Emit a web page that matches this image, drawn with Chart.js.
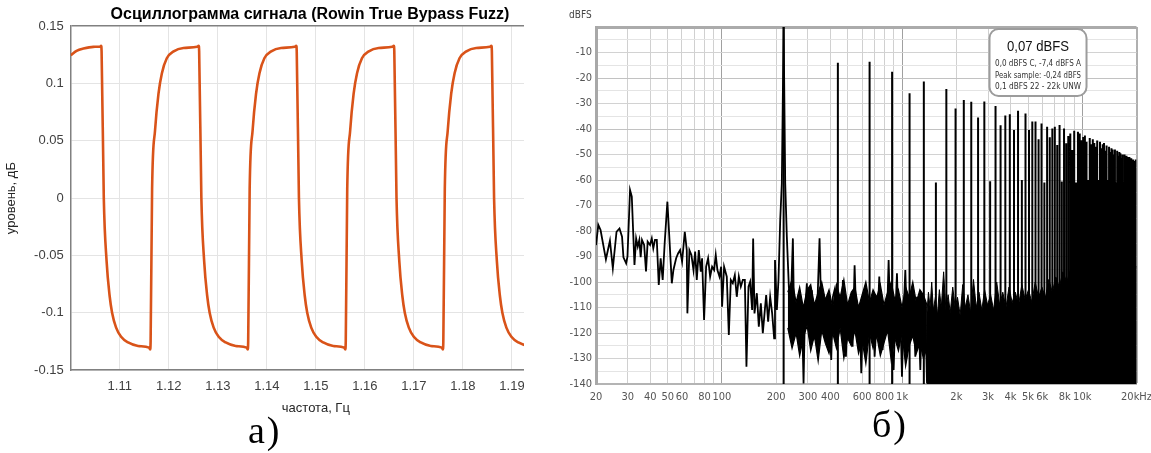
<!DOCTYPE html>
<html>
<head>
<meta charset="utf-8">
<script src="https://cdn.jsdelivr.net/npm/chart.js@4"></script>
<style>
    body { margin: 0; background: #fff; width: 1151px; height: 453px; position: relative; overflow: hidden; }
    #waveBox { position: absolute; left: 0; top: 0; width: 524px; height: 430px; overflow: hidden; }
    #waveBox canvas { position: absolute; left: 0; top: 0; }
    #specBox { position: absolute; left: 540px; top: 0; width: 619px; height: 410px; }
    .cap { position: absolute; font-family: 'Liberation Serif', 'Times New Roman', serif; font-size: 38px; line-height: 1; letter-spacing: 2px; color: #000; }
</style>
</head>
<body>
<div id="waveBox"><canvas id="waveChart" width="620" height="416"></canvas></div>
<div id="specBox"><canvas id="specChart" width="619" height="410"></canvas></div>
<div class="cap" style="left:248px; top:411px;">а)</div>
<div class="cap" style="left:872px; top:405px;">б)</div>
<script>
// а) осциллограмма: время, с / уровень
var waveT = [1.1000, 1.1012, 1.1026, 1.1046, 1.1060,
    1.1062, 1.1063, 1.10675, 1.10732, 1.10793, 1.10844, 1.10926, 1.11028, 1.11171, 1.11375, 1.1160, 1.1162, 1.1163, 1.1166, 1.1172, 1.1179, 1.1186, 1.1196, 1.1210, 1.1230, 1.1258,
    1.1261, 1.1262, 1.12665, 1.12722, 1.12783, 1.12834, 1.12916, 1.13018, 1.13161, 1.13365, 1.1359, 1.1361, 1.1362, 1.1365, 1.1371, 1.1378, 1.1385, 1.1395, 1.1409, 1.1429, 1.1457,
    1.1460, 1.1461, 1.14655, 1.14712, 1.14773, 1.14824, 1.14906, 1.15008, 1.15151, 1.15355, 1.1558, 1.1560, 1.1561, 1.1564, 1.1570, 1.1577, 1.1584, 1.1594, 1.1608, 1.1628, 1.1656,
    1.1659, 1.1660, 1.16645, 1.16702, 1.16763, 1.16814, 1.16896, 1.16998, 1.17141, 1.17345, 1.1757, 1.1759, 1.1760, 1.1763, 1.1769, 1.1776, 1.1783, 1.1793, 1.1807, 1.1827, 1.1855,
    1.1858, 1.1859, 1.18635, 1.18692, 1.18753, 1.18804, 1.18886, 1.18988, 1.19131, 1.19335, 1.1956, 1.1958, 1.1959, 1.1962, 1.1968, 1.1975, 1.1982, 1.1992];
var waveV = [0.1247, 0.1285, 0.1305, 0.132, 0.1322,
    0.133, 0.128, 0.0, -0.055, -0.085, -0.100, -0.113, -0.121, -0.126, -0.129, -0.1305, -0.132, -0.125, 0.008, 0.059, 0.091, 0.109, 0.122, 0.128, 0.131, 0.132,
    0.133, 0.128, 0.0, -0.055, -0.085, -0.100, -0.113, -0.121, -0.126, -0.129, -0.1305, -0.132, -0.125, 0.008, 0.059, 0.091, 0.109, 0.122, 0.128, 0.131, 0.132,
    0.133, 0.128, 0.0, -0.055, -0.085, -0.100, -0.113, -0.121, -0.126, -0.129, -0.1305, -0.132, -0.125, 0.008, 0.059, 0.091, 0.109, 0.122, 0.128, 0.131, 0.132,
    0.133, 0.128, 0.0, -0.055, -0.085, -0.100, -0.113, -0.121, -0.126, -0.129, -0.1305, -0.132, -0.125, 0.008, 0.059, 0.091, 0.109, 0.122, 0.128, 0.131, 0.132,
    0.133, 0.128, 0.0, -0.055, -0.085, -0.100, -0.113, -0.121, -0.126, -0.129, -0.1305, -0.132, -0.125, 0.008, 0.059, 0.091, 0.109, 0.122];
var waveXTicks = [1.10, 1.11, 1.12, 1.13, 1.14, 1.15, 1.16, 1.17, 1.18, 1.19, 1.20];
var waveYTicks = [-0.15, -0.1, -0.05, 0, 0.05, 0.1, 0.15];

// б) спектр: шум до 1.37 кГц
var noiseF = [20.0, 20.6, 21.2, 22.7, 23.9, 24.8, 26.0, 27.0, 27.9, 28.4, 29.4, 29.9, 30.9, 31.6, 32.7, 33.4, 34.1, 34.8, 35.4, 36.0,
    37.0, 37.9, 38.7, 39.9, 40.8, 41.6, 42.5, 43.5, 44.6, 45.7, 46.9, 48.1, 49.8, 51.1, 52.7, 53.8, 55.7, 57.1, 58.6, 60.1,
    62.2, 63.8, 64.3, 66.0, 67.7, 69.5, 71.0, 72.5, 74.4, 76.3, 77.6, 79.6, 81.7, 83.8, 86.0, 88.2, 90.5, 92.4, 94.4, 96.9,
    99.0, 100.2, 102.8, 106.4, 109.2, 112.0, 114.9, 117.9, 120.9, 124.1, 127.3, 130.6, 134.0, 136.8, 140.4, 143.4, 147.1, 149.0, 151.6, 156.2,
    160.2, 164.4, 168.6, 173.0, 176.0, 180.5, 185.2, 190.0, 194.9, 197.0, 201.8, 206.0, 210.6, 215.0, 220.0, 224.5, 229.2, 235.2, 241.2, 247.6,
    250.7, 255.1, 260.5, 266.2, 271.9, 277.8, 283.8, 288.7, 296.0, 302.5, 309.0, 315.6, 322.4, 329.4, 336.4, 348.2, 355.7, 363.3, 371.2, 379.1,
    387.3, 395.6, 404.2, 412.9, 421.8, 430.9, 449.7, 459.4, 469.3, 477.4, 487.7, 498.3, 509.0, 519.9, 531.1, 544.9, 556.7, 568.6, 580.9, 593.4,
    606.2, 619.3, 632.6, 646.2, 674.4, 688.9, 703.7, 718.9, 734.4, 746.9, 763.0, 779.4, 796.2, 813.4, 830.9, 841.7, 859.9, 897.3, 916.6, 936.3,
    956.5, 977.2, 998.2, 1019.7, 1041.8, 1064.2, 1087.2, 1134.5, 1159.0, 1183.9, 1209.5, 1235.4, 1262.1, 1289.3, 1345.4, 1374.4];
var noiseDb = [-85.5, -77.6, -79.6, -91.1, -83.8, -94.6, -80.3, -79.0, -82.2, -90.3, -92.7, -90.1, -63.9, -66.5, -93.3, -82.9, -86.1, -83.5, -90.3, -83.5,
    -85.5, -95.9, -84.2, -85.5, -82.9, -86.8, -83.5, -83.5, -101.2, -90.7, -99.2, -84.8, -68.5, -82.9, -100.5, -95.3, -90.7, -88.8, -87.5, -92.0,
    -80.3, -87.5, -112.3, -87.5, -89.4, -95.3, -88.1, -99.2, -87.5, -95.9, -90.7, -114.9, -94.0, -90.7, -97.9, -94.0, -95.3, -89.4, -95.3, -97.9,
    -94.0, -109.7, -94.0, -97.9, -120.8, -99.2, -100.5, -97.3, -105.8, -97.9, -101.8, -99.2, -99.2, -133.2, -101.8, -99.9, -111.0, -82.9, -112.3, -104.4,
    -117.5, -108.4, -120.1, -111.0, -105.1, -115.6, -105.8, -112.3, -122.1, -91.4, -111.0, -99.2, -75.7, -61.3, 0, -61.3, -82.2, -101.9, -108.4, -82.9,
    -108.4, -112.3, -121.5, -108.4, -114.9, -111.0, -139.8, -112.3, -100.5, -117.5, -108.4, -103.2, -122.8, -111.0, -114.9, -82.9, -112.3, -107.1, -118.8, -109.7,
    -104.5, -114.9, -130.6, -105.8, -103.2, -113.6, -108.4, -117.5, -99.2, -111.0, -129.3, -111.0, -118.8, -108.4, -125.4, -93.4, -114.9, -121.5, -109.7, -135.8,
    -113.6, -107.1, -117.5, -108.4, -112.3, -105.8, -129.3, -117.5, -111.0, -97.9, -114.9, -126.7, -109.7, -117.5, -105.8, -91.4, -116.2, -134.5, -113.6, -96.6,
    -118.8, -111.0, -137.1, -112.3, -95.3, -117.5, -109.7, -118.8, -111.0, -129.3, -105.8, -113.6, -134.5, -108.4, -112.3, -139.8];

// плотная полоса шума 232 Гц - 1.37 кГц (верх / низ)
var bandF = [232, 245, 258, 270, 283, 297, 311, 326, 342, 358, 375, 393, 412, 432, 453, 475, 498, 522, 547, 573,
    600, 629, 659, 690, 723, 757, 793, 831, 870, 911, 954, 999, 1046, 1095, 1146, 1199, 1255, 1313, 1374];
var bandTop = [-104, -99, -108, -102, -110, -103, -101, -109, -104, -100, -107, -103, -110, -101, -106, -99, -109, -104, -102, -110,
    -105, -100, -108, -103, -106, -101, -109, -104, -100, -107, -103, -110, -102, -106, -100, -108, -103, -105, -109];
var bandBottom = [-118, -126, -120, -129, -122, -117, -127, -121, -131, -119, -124, -128, -120, -126, -118, -130, -122, -125, -119, -128,
    -123, -132, -120, -126, -121, -129, -124, -119, -131, -122, -127, -120, -133, -125, -121, -128, -124, -130, -126];

// плотный шум от 1.37 кГц (верхняя граница)
var floorF = [1374, 1400, 1430, 1460, 1490, 1530, 1570, 1610, 1650, 1700, 1750, 1800, 1850, 1910, 1970, 2030, 2100, 2170, 2240, 2320,
    2400, 2490, 2580, 2670, 2770, 2870, 2980, 3100, 3220, 3350, 3480, 3620, 3770, 3920, 4080, 4250, 4430, 4620, 4820, 5030,
    5250, 5480, 5720, 5970, 6240, 6520, 6820, 7130, 7460, 7800, 8200, 8600, 9000, 9500, 10000, 11000, 12000, 13500, 15000, 17000, 20000];
var floorDb = [-112, -104, -110, -100, -111, -106, -113, -103, -110, -96, -111, -105, -112, -102, -110, -106, -113, -101, -110, -105,
    -112, -99, -110, -104, -111, -103, -109, -105, -111, -100, -109, -104, -110, -102, -108, -104, -109, -101, -107, -103,
    -108, -100, -106, -102, -106, -99, -104, -98, -102, -96, -100, -95, -98, -94, -96, -93, -95, -92, -94, -92, -94];

// гармоники 220 Гц
var harmF = [220, 440, 660, 880, 1100, 1320, 1540, 1760, 1980, 2200, 2420, 2640, 2860, 3080, 3300, 3520, 3740, 3960, 4180, 4400,
    4620, 4840, 5060, 5280, 5500, 5720, 5940, 6160, 6380, 6600, 6820, 7040, 7260, 7480, 7700, 7920, 8140, 8360, 8580, 8800,
    9020, 9240, 9460, 9680, 9900, 10120, 10340, 10560, 10780, 11000, 11220, 11440, 11660, 11880, 12100, 12320, 12540, 12760, 12980, 13200,
    13420, 13640, 13860, 14080, 14300, 14520, 14740, 14960, 15180, 15400, 15620, 15840, 16060, 16280, 16500, 16720, 16940, 17160, 17380, 17600,
    17820, 18040, 18260, 18480, 18700, 18920, 19140, 19360, 19580, 19800];
var harmDb = [0, -14.0, -13.6, -17.5, -26.0, -21.4, -61, -24.3, -32.0, -28.6,
    -29.3, -35.5, -29.2, -60.5, -31.0, -38.5, -34.7, -34.2, -40.4, -32.8,
    -60, -33.9, -40.4, -37.1, -37.1, -44.0, -37.8, -61, -39.1, -43.2,
    -39.8, -39.1, -46.3, -38.4, -60.6, -39.8, -45.6, -42.7, -41.8, -48.2,
    -40.7, -61, -41.1, -41.8, -44.4, -43.1, -42.5, -45.0, -60, -43.5,
    -46.0, -44.0, -45.5, -47.0, -44.5, -60, -45.0, -47.5, -46.0, -45.5,
    -48.5, -46.5, -60, -47.0, -49.0, -47.5, -48.0, -50.0, -48.0, -61,
    -48.5, -50.5, -49.0, -49.5, -51.5, -50.0, -61, -50.0, -52.0, -50.5,
    -51.0, -53.0, -51.0, -61, -51.5, -53.0, -52.0, -52.5, -54.0, -52.0];

var gridF = [20, 30, 40, 50, 60, 70, 80, 90, 100, 200, 300, 400, 500, 600, 700, 800, 900, 1000,
    2000, 3000, 4000, 5000, 6000, 7000, 8000, 9000, 10000, 20000];
var labelF = [20, 30, 40, 50, 60, 80, 100, 200, 300, 400, 600, 800, 1000, 2000, 3000, 4000, 5000, 6000, 8000, 10000, 20000];
var labelText = ['20', '30', '40', '50', '60', '80', '100', '200', '300', '400', '600', '800', '1k', '2k', '3k', '4k', '5k', '6k', '8k', '10k', '20kHz'];
var dbGrid = [-140, -135, -130, -125, -120, -115, -110, -105, -100, -95, -90, -85, -80, -75, -70, -65, -60, -55, -50, -45,
    -40, -35, -30, -25, -20, -15, -10, -5, 0];
var infoLines = ['0,0 dBFS C, -7,4 dBFS A', 'Peak sample: -0,24 dBFS', '0,1 dBFS 22 - 22k UNW'];

var sansFont = 'Liberation Sans';
var narrowFont = "'Liberation Sans Narrow', 'DejaVu Sans Condensed', sans-serif";

// ---------- а) ----------
var waveCanvas = document.getElementById('waveChart').getContext('2d');
var wavePoints = waveT.map(function (t, i) { return { x: t, y: waveV[i] }; });

var waveChart = new Chart(waveCanvas, {
    type: 'line',
    data: {
        datasets: [{
            data: wavePoints,
            borderColor: '#D95319',
            borderWidth: 2.6,
            pointRadius: 0,
            fill: false,
            cubicInterpolationMode: 'monotone'
        }]
    },
    options: {
        responsive: false,
        animation: false,
        layout: { padding: 0 },
        plugins: {
            legend: { display: false },
            tooltip: { enabled: false },
            title: {
                display: true,
                text: 'Осциллограмма сигнала (Rowin True Bypass Fuzz)',
                color: '#000',
                font: { family: sansFont, size: 16, weight: 'bold' },
                padding: { top: 5, bottom: 2 }
            }
        },
        scales: {
            x: {
                type: 'linear',
                min: 1.1,
                max: 1.2,
                afterFit: function (s) { s.height = 46; },
                afterBuildTicks: function (s) { s.ticks = waveXTicks.map(function (v) { return { value: v }; }); },
                ticks: {
                    padding: 9,
                    maxRotation: 0,
                    autoSkip: false,
                    color: '#404040',
                    font: { family: sansFont, size: 13 },
                    callback: function (v) { return Math.abs(v - 1.1) < 1e-6 ? '' : v.toFixed(2); }
                },
                grid: { color: '#e4e4e4', drawTicks: false },
                border: { color: '#808080', width: 1.5 },
                title: {
                    display: true,
                    text: 'частота, Гц',
                    color: '#262626',
                    font: { family: sansFont, size: 13 },
                    padding: { top: 0, bottom: 0 }
                }
            },
            y: {
                min: -0.15,
                max: 0.15,
                afterFit: function (s) { s.width = 70.7; },
                afterBuildTicks: function (s) { s.ticks = waveYTicks.map(function (v) { return { value: v }; }); },
                ticks: {
                    padding: 7,
                    color: '#404040',
                    font: { family: sansFont, size: 13 },
                    callback: function (v) { return String(Number(v.toFixed(2))); }
                },
                grid: {
                    drawTicks: false,
                    color: function (c) { return Math.abs(c.tick.value - 0.15) < 1e-9 ? '#808080' : '#e4e4e4'; },
                    lineWidth: function (c) { return Math.abs(c.tick.value - 0.15) < 1e-9 ? 1.5 : 1; }
                },
                border: { color: '#808080', width: 1.5 },
                title: {
                    display: true,
                    text: 'уровень, дБ',
                    color: '#262626',
                    font: { family: sansFont, size: 13 },
                    padding: { top: 4, bottom: 0 }
                }
            },
            // пустая ось справа: оси MATLAB шире видимой части
            yRight: {
                position: 'right',
                display: true,
                afterFit: function (s) { s.width = 59; },
                grid: { display: false },
                ticks: { display: false },
                border: { display: false }
            }
        }
    }
});

// ---------- б) ----------
var specCanvas = document.getElementById('specChart').getContext('2d');
var noisePoints = noiseF.map(function (f, i) { return { x: f, y: noiseDb[i] }; });
var bandTopPoints = bandF.map(function (f, i) { return { x: f, y: bandTop[i] }; });
var bandBottomPoints = bandF.map(function (f, i) { return { x: f, y: bandBottom[i] }; });
var floorPoints = floorF.map(function (f, i) { return { x: f, y: floorDb[i] }; });
var harmPoints = [];
harmF.forEach(function (f, i) {
    harmPoints.push({ x: f, y: -140 });
    harmPoints.push({ x: f, y: harmDb[i] });
    harmPoints.push({ x: f, y: null });
});

var specDecor = {
    id: 'specDecor',
    afterDraw: function (chart) {
        var ctx = chart.ctx;
        var area = chart.chartArea;
        ctx.save();
        ctx.fillStyle = '#444';
        ctx.font = '10px ' + narrowFont;
        ctx.textAlign = 'left';
        ctx.textBaseline = 'middle';
        ctx.fillText('dBFS', 29, 15);

        var bx = area.right - 147, by = area.top + 2, bw = 97, bh = 67;
        ctx.beginPath();
        ctx.roundRect(bx, by, bw, bh, 9);
        ctx.fillStyle = '#fff';
        ctx.fill();
        ctx.lineWidth = 2;
        ctx.strokeStyle = '#9c9c9c';
        ctx.stroke();

        ctx.textAlign = 'center';
        ctx.fillStyle = '#111';
        ctx.font = '15px ' + sansFont;
        ctx.fillText('0,07 dBFS', bx + bw / 2, by + 18, 62);
        ctx.fillStyle = '#333';
        ctx.font = '9px ' + narrowFont;
        infoLines.forEach(function (line, i) {
            ctx.fillText(line, bx + bw / 2, by + 35 + i * 11.5, 86);
        });
        ctx.restore();
    }
};

var specChart = new Chart(specCanvas, {
    type: 'line',
    data: {
        datasets: [{
            data: floorPoints,
            borderColor: '#000',
            backgroundColor: '#000',
            borderWidth: 1,
            pointRadius: 0,
            fill: 'start'
        }, {
            data: bandBottomPoints,
            borderColor: '#000',
            borderWidth: 1.2,
            pointRadius: 0,
            fill: false
        }, {
            data: bandTopPoints,
            borderColor: '#000',
            backgroundColor: '#000',
            borderWidth: 1.2,
            pointRadius: 0,
            fill: '-1'
        }, {
            data: noisePoints,
            borderColor: '#000',
            borderWidth: 1.8,
            pointRadius: 0,
            fill: false
        }, {
            data: harmPoints,
            borderColor: '#000',
            borderWidth: 2,
            pointRadius: 0,
            fill: false,
            spanGaps: false
        }]
    },
    options: {
        responsive: false,
        animation: false,
        layout: { padding: { left: 0, right: 15, top: 27, bottom: 0 } },
        plugins: {
            legend: { display: false },
            tooltip: { enabled: false },
            title: { display: false }
        },
        scales: {
            x: {
                type: 'logarithmic',
                min: 20,
                max: 20000,
                afterFit: function (s) { s.height = 26; },
                afterBuildTicks: function (s) { s.ticks = gridF.map(function (v) { return { value: v }; }); },
                ticks: {
                    padding: 7,
                    maxRotation: 0,
                    autoSkip: false,
                    color: '#555',
                    font: { family: narrowFont, size: 11 },
                    callback: function (v) {
                        var k = labelF.indexOf(v);
                        return k < 0 ? '' : labelText[k];
                    }
                },
                grid: {
                    drawTicks: false,
                    color: function (c) {
                        var v = c.tick.value;
                        if (v === 20000) return '#b0b0b0';
                        if (v === 100 || v === 1000 || v === 10000) return '#a0a0a0';
                        return '#d0d0d0';
                    },
                    lineWidth: function (c) { return c.tick.value === 20000 ? 2 : 1; }
                },
                border: { color: '#b4b4b4', width: 2 }
            },
            y: {
                min: -140,
                max: 0,
                afterFit: function (s) { s.width = 56; },
                afterBuildTicks: function (s) { s.ticks = dbGrid.map(function (v) { return { value: v }; }); },
                ticks: {
                    padding: 4,
                    autoSkip: false,
                    color: '#555',
                    font: { family: narrowFont, size: 11 },
                    callback: function (v) { return (v % 10 === 0 && v !== 0) ? String(v) : ''; }
                },
                grid: {
                    drawTicks: false,
                    color: function (c) {
                        var v = c.tick.value;
                        if (v === 0) return '#ababab';
                        if (v % 20 === 0) return '#c2c2c2';
                        if (v % 10 === 0) return '#d2d2d2';
                        return '#e4e4e4';
                    },
                    lineWidth: function (c) { return c.tick.value === 0 ? 3 : 1; }
                },
                border: { color: '#a8a8a8', width: 3 }
            }
        }
    },
    plugins: [specDecor]
});
</script>
</body>
</html>
